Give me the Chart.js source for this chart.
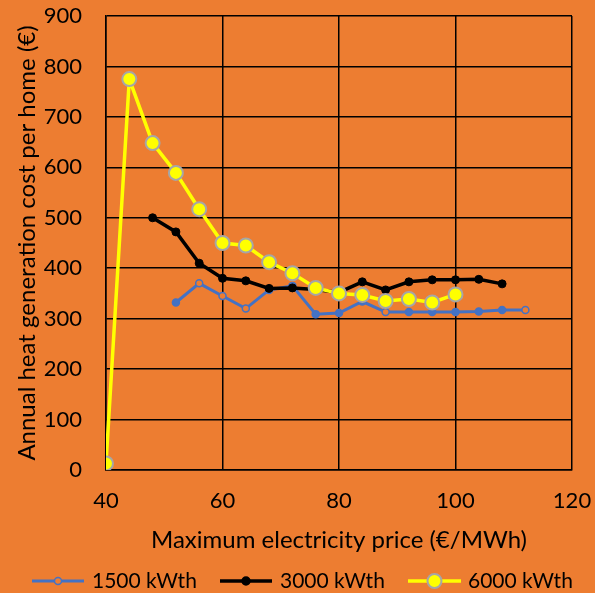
<!DOCTYPE html>
<html>
<head>
<meta charset="utf-8">
<script src="https://cdn.jsdelivr.net/npm/chart.js@4"></script>
<style>
html,body{margin:0;padding:0;background:#ED7D31;}
#wrap{width:595px;height:593px;position:relative;}
</style>
</head>
<body>
<div id="wrap"><canvas id="c" width="595" height="593"></canvas></div>
<script>
const xTicks = [40, 60, 80, 100, 120];
const yTicks = [0, 100, 200, 300, 400, 500, 600, 700, 800, 900];

const seriesNames = ['1500 kWth', '3000 kWth', '6000 kWth'];

const x1500 = [52, 56, 60, 64, 68, 72, 76, 80, 84, 88, 92, 96, 100, 104, 108, 112];
const y1500 = [332, 370, 345, 320, 357, 365, 309, 311, 334, 313, 313, 313, 313, 314, 317, 317];

const x3000 = [48, 52, 56, 60, 64, 68, 72, 76, 80, 84, 88, 92, 96, 100, 104, 108];
const y3000 = [500, 472, 410, 380, 375, 360, 361, 358, 352, 373, 357, 373, 377, 377, 378, 369];

const x6000 = [40, 44, 48, 52, 56, 60, 64, 68, 72, 76, 80, 84, 88, 92, 96, 100];
const y6000 = [13, 775, 648, 589, 517, 450, 445, 412, 390, 361, 350, 347, 335, 339, 332, 348];

const hollow1500 = [56, 60, 64, 88, 112];

function pts(xs, ys) { return xs.map((x, i) => ({x: x, y: ys[i]})); }

const FONT = 'Lato, "Open Sans", sans-serif';
const BG = '#ED7D31';
const BLUE = '#4472C4';

const legendPlugin = {
  id: 'customLegend',
  afterDraw(chart) {
    const ctx = chart.ctx;
    const y = 581;
    const items = [
      {x0: 32, x1: 84, tx: 92, ds: 0},
      {x0: 220, x1: 272, tx: 280, ds: 1},
      {x0: 408, x1: 461, tx: 468, ds: 2}
    ];
    ctx.save();
    items.forEach(it => {
      const d = chart.data.datasets[it.ds];
      ctx.strokeStyle = d.borderColor;
      ctx.lineWidth = d.borderWidth;
      ctx.beginPath();
      ctx.moveTo(it.x0, y);
      ctx.lineTo(it.x1, y);
      ctx.stroke();
      const mx = (it.x0 + it.x1) / 2;
      ctx.beginPath();
      ctx.arc(mx, y, it.ds === 2 ? 7 : (it.ds === 1 ? 4 : 3.5), 0, Math.PI * 2);
      ctx.fillStyle = it.ds === 0 ? BG : (it.ds === 1 ? '#000' : '#FFFF00');
      ctx.fill();
      ctx.lineWidth = it.ds === 2 ? 2 : 1.5;
      ctx.strokeStyle = it.ds === 2 ? '#A6A6A6' : (it.ds === 1 ? '#000' : BLUE);
      ctx.stroke();
      ctx.fillStyle = '#000';
      ctx.font = '21px ' + FONT;
      ctx.textBaseline = 'middle';
      ctx.textAlign = 'left';
      ctx.fillText(seriesNames[it.ds], it.tx, y);
    });
    ctx.restore();
  }
};

new Chart(document.getElementById('c'), {
  type: 'line',
  data: {
    datasets: [
      {
        label: seriesNames[0],
        data: pts(x1500, y1500),
        borderColor: BLUE,
        borderWidth: 3,
        pointRadius: 3.5,
        pointBorderWidth: 1.5,
        pointBorderColor: BLUE,
        pointBackgroundColor: x1500.map(x => hollow1500.includes(x) ? BG : BLUE),
        tension: 0,
        order: 3
      },
      {
        label: seriesNames[1],
        data: pts(x3000, y3000),
        borderColor: '#000000',
        borderWidth: 3.5,
        pointRadius: 4,
        pointBorderWidth: 1,
        pointBorderColor: '#000000',
        pointBackgroundColor: '#000000',
        tension: 0,
        order: 2
      },
      {
        label: seriesNames[2],
        data: pts(x6000, y6000),
        borderColor: '#FFFF00',
        borderWidth: 3.5,
        pointRadius: 7,
        pointBorderWidth: 2,
        pointBorderColor: '#A6A6A6',
        pointBackgroundColor: '#FFFF00',
        tension: 0,
        order: 1
      }
    ]
  },
  options: {
    responsive: false,
    animation: false,
    events: [],
    layout: { padding: { left: 0, right: 23, top: 16, bottom: 0 } },
    plugins: { legend: { display: false }, tooltip: { enabled: false } },
    scales: {
      x: {
        type: 'linear',
        min: 40, max: 120,
        afterFit(s) { s.height = 123; s.paddingLeft = 0; s.paddingRight = 0; },
        afterBuildTicks(s) { s.ticks = xTicks.map(v => ({value: v})); },
        grid: { color: '#000', lineWidth: 1.5, drawTicks: false },
        border: { color: '#000', width: 1.5 },
        ticks: { color: '#000', font: { family: FONT, size: 22 }, padding: 18, maxRotation: 0 },
        title: { display: true, text: 'Maximum electricity price (€/MWh)', color: '#000',
                 font: { family: FONT, size: 24 }, padding: { top: 0, bottom: 38 } }
      },
      y: {
        type: 'linear',
        min: 0, max: 900,
        afterFit(s) { s.width = 106; s.paddingTop = 0; s.paddingBottom = 0; },
        afterBuildTicks(s) { s.ticks = yTicks.map(v => ({value: v})); },
        grid: { color: '#000', lineWidth: 1.5, drawTicks: false },
        border: { color: '#000', width: 1.5 },
        ticks: { color: '#000', font: { family: FONT, size: 22 }, padding: 24 },
        title: { display: true, text: 'Annual heat generation cost per home (€)', color: '#000',
                 font: { family: FONT, size: 24 }, padding: { top: 13, bottom: 0 } }
      }
    }
  },
  plugins: [legendPlugin]
});
</script>
</body>
</html>
